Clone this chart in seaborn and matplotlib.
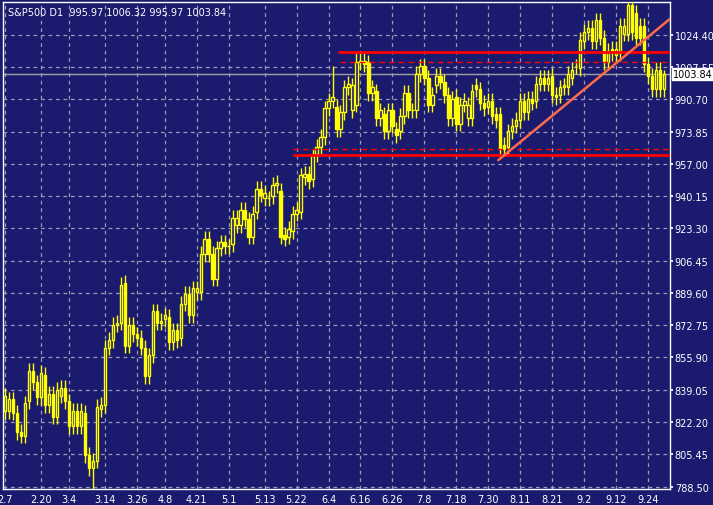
import numpy as np
import pandas as pd
import matplotlib
matplotlib.use("Agg")
import matplotlib.pyplot as plt
import seaborn as sns

opens = [828,828,834,827,817,815,833,849,843,835,847,831,837,825,836,840,833,820,828,820,
         827,805,798,802,829,831,861,865,873,874,895,862,873,868,866,861,846,857,880,874,
         876,877,864,870,866,884,889,878,890,890,910,918,910,897,913,916,914,915,925,925,
         933,928,919,932,944,939,939,940,946,943,920,919,922,931,932,950,952,949,962,966,
         971,986,990,987,975,984,997,985,988,1010,1011,1010,994,995,981,983,974,985,975,974,
         982,994,985,985,1004,1008,1002,988,998,1003,1000,993,981,992,978,988,981,981,998,996,
         989,987,990,983,983,967,966,974,977,980,990,984,991,990,999,1002,999,1003,993,993,
         997,997,1002,1008,1007,1021,1026,1028,1021,1032,1023,1010,1017,1014,1015,1025,1025,1040,1036,1029,
         1029,1009,1003,996,1006,995.97]
closes = [836,834,827,817,815,832,849,843,835,848,831,837,825,839,840,833,820,828,820,828,
          805,798,802,830,831,861,865,873,874,894,862,873,868,866,861,846,857,880,874,875,
          878,864,870,865,884,889,878,892,892,910,918,910,897,913,916,914,914,929,929,933,
          928,919,931,944,941,942,939,946,947,919,918,923,931,933,951,952,948,961,966,971,
          986,990,992,975,984,997,999,998,1010,1011,1009,994,997,981,985,974,985,977,972,982,
          994,985,985,1004,1008,1002,988,993,1003,1000,993,981,991,978,988,990,988,995,996,989,
          986,990,982,980,965,965,974,977,980,990,984,991,989,999,1002,999,1002,993,992,997,
          998,1004,1006,1008,1022,1026,1028,1021,1032,1023,1010,1016,1015,1017,1029,1029,1040,1026,1023,1023,
          1009,1003,996,1006,996,1003.84]
wick_highs = {30: 898, 83: 1008, 89: 1015, 157: 1042, 166: 1006.32}
wick_lows = {23: 786}
tick_pos = [1,10,17,26,34,41,49,57,66,74,82,90,98,106,114,122,130,138,146,154,162]
tick_labels = ["2.7","2.20","3.4","3.14","3.26","4.8","4.21","5.1","5.13","5.22","6.4",
               "6.16","6.26","7.8","7.18","7.30","8.11","8.21","9.2","9.12","9.24"]
price_ticks = [788.50,805.45,822.20,839.05,855.90,872.75,889.60,906.45,923.30,940.15,
               957.00,973.85,990.70,1007.55,1024.40]

BG = "#1a1a6e"
YEL = "#ffff00"
sns.set_theme(style="dark", rc={"axes.facecolor": BG, "figure.facecolor": BG})

df = pd.DataFrame({"o": opens, "c": closes})
df["i"] = np.arange(1, len(df) + 1)
df["top"] = df[["o", "c"]].max(axis=1)
df["bot"] = df[["o", "c"]].min(axis=1)
df["h"] = df["top"] + 4
df["l"] = df["bot"] - 4
for k, v in wick_highs.items():
    df.loc[df.i == k, "h"] = v
for k, v in wick_lows.items():
    df.loc[df.i == k, "l"] = v

fig = plt.figure(figsize=(7.13, 5.06), dpi=100)
ax = fig.add_axes([3/713, 16/506, 667/713, 487/506])
ax.set_xlim(0.5, 167.5)
ax.set_ylim(787.2, 1041.6)

for p in price_ticks:
    ax.axhline(p, color="#9a9ab8", lw=0.9, ls=(0, (3, 3)), zorder=1)
for t in tick_pos:
    ax.axvline(t, color="#9a9ab8", lw=0.9, ls=(0, (3, 3)), zorder=1)

ax.vlines(df.i, df.l, df.h, color=YEL, lw=1, zorder=3)
bull = df[df.c >= df.o]
bear = df[df.c < df.o]
ax.bar(bull.i, (bull.top - bull.bot).clip(lower=0.4), bottom=bull.bot, width=0.6,
       facecolor=BG, edgecolor=YEL, lw=1, zorder=4)
ax.bar(bear.i, bear.top - bear.bot, bottom=bear.bot, width=0.6,
       facecolor=YEL, edgecolor=YEL, lw=1, zorder=4)

ax.axhline(1003.84, color="#a0a0a0", lw=1, zorder=2)
ax.hlines(1015.5, 84.5, 167.5, color="#ff0000", lw=2, zorder=5)
ax.hlines(1010.3, 85, 167.5, color="#ff0000", lw=1, ls=(0, (4, 3)), zorder=5)
ax.hlines(961.7, 73, 167.5, color="#ff0000", lw=2, zorder=5)
ax.hlines(964.8, 73, 167.5, color="#ff0000", lw=1, ls=(0, (4, 3)), zorder=5)
ax.plot([124.5, 167.5], [959.0, 1032.8], color="#ff6a4a", lw=1.8, zorder=5)

ax.yaxis.tick_right()
ax.set_yticks(price_ticks)
ax.set_yticklabels([f"{p:.2f}" for p in price_ticks], color="white", fontsize=7)
ax.set_xticks(tick_pos)
ax.set_xticklabels(tick_labels, color="white", fontsize=7)
ax.tick_params(axis="both", length=2, color="white", pad=1.5)
for s in ax.spines.values():
    s.set_color("white")
    s.set_linewidth(1)
ax.text(0.007, 0.99, "S&P500 D1  995.97 1006.32 995.97 1003.84", transform=ax.transAxes,
        color="white", fontsize=7, va="top", ha="left")
ax.text(1.004, 1003.84, "1003.84", transform=ax.get_yaxis_transform(), color="black",
        fontsize=7, va="center", ha="left",
        bbox=dict(facecolor="white", edgecolor="white", pad=0.8))
fig.savefig("out.png", dpi=100, facecolor=BG)
